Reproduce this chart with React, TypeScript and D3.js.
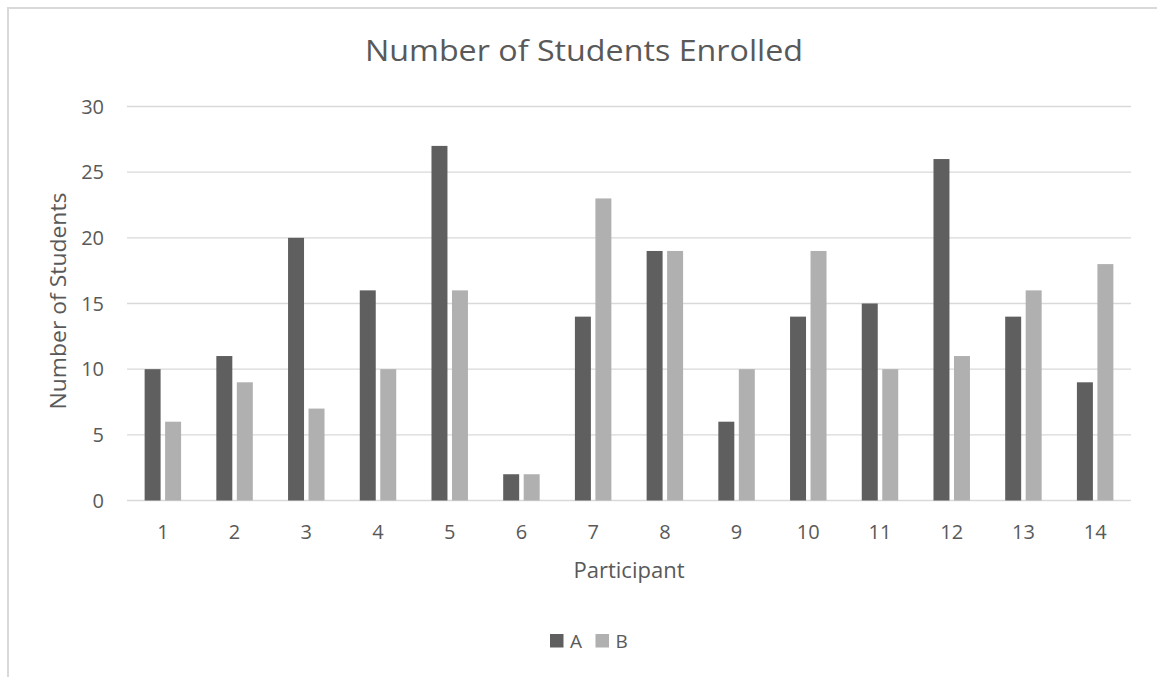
import React from "react";
import * as d3 from "d3";

const categories = ["1", "2", "3", "4", "5", "6", "7", "8", "9", "10", "11", "12", "13", "14"];
const seriesNames = ["A", "B"];
const seriesA = [10, 11, 20, 16, 27, 2, 14, 19, 6, 14, 15, 26, 14, 9];
const seriesB = [6, 9, 7, 10, 16, 2, 23, 19, 10, 19, 10, 11, 16, 18];
const yTicks = [0, 5, 10, 15, 20, 25, 30];
const colors = ["#5f5f5f", "#b0b0b0"];

const W = 1157;
const H = 677;
const FONT = "'Open Sans', 'Liberation Sans', sans-serif";
const TEXT = "#595959";

export default function App() {
  const left = 127, right = 1131, top = 106.5, bottom = 500.5;
  const x = d3.scaleBand<string>().domain(categories).range([left, right]).padding(0);
  const xs = d3.scaleBand<string>().domain(seriesNames).range([0, x.bandwidth()]).paddingInner(0.22).paddingOuter(0.86);
  const y = d3.scaleLinear().domain([0, 30]).range([bottom, top]);
  const series = [seriesA, seriesB];

  return (
    <svg width={W} height={H} style={{ position: "absolute", left: 0, top: 0, background: "#fff" }}>
      <rect x={8} y={8} width={W + 20} height={H + 20} fill="#fff" stroke="#d9d9d9" strokeWidth={2} />
      <text x={584} y={61} textAnchor="middle" fontFamily={FONT} fontSize={30} fill={TEXT} textLength={438} lengthAdjust="spacingAndGlyphs">
        Number of Students Enrolled
      </text>
      {yTicks.map((t) => (
        <g key={t}>
          <line x1={left} x2={right} y1={y(t)} y2={y(t)} stroke="#d9d9d9" strokeWidth={t === 0 ? 1.5 : 1.3} />
          <text x={104} y={y(t) + 7} textAnchor="end" fontFamily={FONT} fontSize={20} fill={TEXT}>
            {t}
          </text>
        </g>
      ))}
      {series.map((vals, si) =>
        vals.map((v, i) => (
          <rect
            key={`${si}-${i}`}
            x={(x(categories[i]) as number) + (xs(seriesNames[si]) as number)}
            y={y(v)}
            width={xs.bandwidth()}
            height={y(0) - y(v)}
            fill={colors[si]}
          />
        ))
      )}
      {categories.map((c) => (
        <text key={c} x={(x(c) as number) + x.bandwidth() / 2} y={539} textAnchor="middle" fontFamily={FONT} fontSize={20} fill={TEXT}>
          {c}
        </text>
      ))}
      <text x={629} y={578} textAnchor="middle" fontFamily={FONT} fontSize={22} fill={TEXT}>
        Participant
      </text>
      <text transform={`translate(66,301) rotate(-90)`} textAnchor="middle" fontFamily={FONT} fontSize={21} fill={TEXT} textLength={217} lengthAdjust="spacingAndGlyphs">
        Number of Students
      </text>
      {seriesNames.map((s, i) => (
        <g key={s} transform={`translate(${550 + i * 45.5},634)`}>
          <rect x={0} y={0} width={13.5} height={13.5} fill={colors[i]} />
          <text x={20} y={14} fontFamily={FONT} fontSize={19} fill={TEXT}>
            {s}
          </text>
        </g>
      ))}
    </svg>
  );
}
